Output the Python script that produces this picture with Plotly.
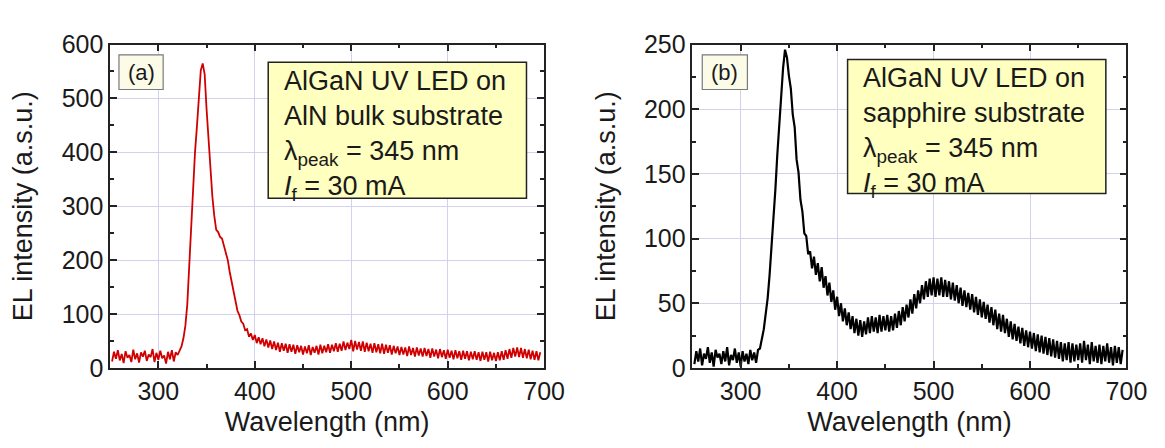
import plotly.graph_objects as go

# ---------------- data ----------------
wavelength_nm = list(range(252, 698, 2))  # sampling grid, 252..696 nm

el_aln_bulk = [
    12, 30, 17, 33, 14, 26, 9, 31, 19, 24,
    11, 34, 16, 27, 10, 29, 21, 32, 13, 25,
    20, 35, 11, 28, 15, 32, 18, 23, 8, 30,
    16, 33, 12, 29, 24, 34, 40, 55, 78, 118,
    190, 265, 340, 400, 448, 505, 552, 565, 545, 480,
    418, 360, 318, 282, 256, 252, 243, 240, 226, 216,
    200, 178, 160, 138, 124, 106, 98, 86, 82, 70,
    72, 58, 64, 52, 61, 46, 57, 44, 55, 40,
    53, 38, 51, 35, 49, 33, 47, 30, 46, 32,
    45, 28, 44, 30, 43, 26, 42, 29, 41, 25,
    40, 27, 42, 24, 39, 28, 41, 25, 43, 27,
    41, 29, 44, 28, 43, 31, 46, 30, 45, 32,
    49, 33, 47, 35, 52, 31, 50, 34, 48, 32,
    49, 30, 47, 31, 45, 28, 46, 29, 44, 27,
    45, 26, 43, 28, 42, 25, 41, 27, 40, 24,
    39, 25, 38, 22, 40, 24, 37, 21, 38, 23,
    36, 21, 37, 22, 35, 19, 36, 21, 34, 18,
    35, 20, 33, 17, 34, 19, 32, 16, 33, 18,
    31, 15, 32, 17, 31, 14, 30, 16, 31, 15,
    29, 13, 30, 15, 29, 12, 30, 14, 28, 13,
    29, 14, 31, 15, 33, 17, 35, 19, 37, 21,
    38, 20, 37, 19, 35, 18, 34, 16, 32, 15,
    31, 14, 29,
]

el_sapphire = [
    3, 13, 5, 15, 2, 11, 7, 16, 4, 12,
    1, 14, 8, 11, 3, 13, 5, 16, 2, 10,
    6, 15, 4, 12, 1, 13, 5, 11, 3, 14,
    6, 12, 4, 14, 15, 23, 30, 42, 54, 72,
    92, 116, 138, 165, 190, 212, 232, 246, 240, 226,
    216, 196, 186, 161, 151, 130, 121, 104, 102, 88,
    90, 77, 86, 72, 81, 67, 78, 62, 71, 56,
    66, 51, 60, 45, 55, 40, 50, 36, 46, 33,
    43, 30, 40, 27, 38, 25, 37, 24, 36, 26,
    39, 27, 40, 28, 39, 27, 41, 28, 40, 29,
    41, 28, 40, 29, 42, 31, 44, 33, 47, 36,
    49, 39, 53, 42, 57, 46, 60, 50, 64, 53,
    67, 55, 69, 56, 70, 55, 69, 56, 70, 55,
    68, 55, 67, 53, 66, 52, 64, 50, 62, 48,
    60, 47, 58, 45, 57, 43, 55, 41, 53, 39,
    51, 38, 49, 35, 47, 33, 45, 30, 42, 28,
    41, 27, 38, 24, 36, 22, 34, 21, 32, 19,
    31, 17, 29, 16, 28, 15, 27, 13, 26, 12,
    25, 11, 24, 10, 23, 9, 22, 8, 21, 7,
    20, 5, 19, 6, 20, 4, 19, 5, 18, 6,
    19, 4, 21, 6, 18, 3, 20, 5, 17, 4,
    18, 3, 17, 5, 19, 4, 16, 2, 17, 4,
    16, 3, 14,
]

x_range = [250, 700]
x_major = 100
x_minor = 50
y_range_a = [0, 600]
y_major_a = 100
y_minor_a = 50
y_range_b = [0, 250]
y_major_b = 50
y_minor_b = 25

x_title = "Wavelength (nm)"
y_title = "EL intensity (a.s.u.)"
panel_labels = ["(a)", "(b)"]
info_a = ["AlGaN UV LED on", "AlN bulk substrate",
          "λ<sub>peak</sub> = 345 nm", "<i>I</i><sub>f</sub> = 30 mA"]
info_b = ["AlGaN UV LED on", "sapphire substrate",
          "λ<sub>peak</sub> = 345 nm", "<i>I</i><sub>f</sub> = 30 mA"]

# ---------------- layout helpers ----------------
W, H = 1165, 448
FONT = "Liberation Sans, Arial, Helvetica, sans-serif"
TXT = "#1a1a1a"


def px(x):
    return x / W


def py(y):
    return 1 - y / H


ydom = [py(369), py(24)]
xdom_a = [px(104), px(546)]
xdom_b = [px(697), px(1139)]

fig = go.Figure()
fig.add_trace(go.Scatter(x=wavelength_nm, y=el_aln_bulk, mode="lines",
                         line=dict(color="#D00000", width=1.8),
                         xaxis="x", yaxis="y", showlegend=False))
fig.add_trace(go.Scatter(x=wavelength_nm, y=el_sapphire, mode="lines",
                         line=dict(color="#000000", width=2.2),
                         xaxis="x2", yaxis="y2", showlegend=False))


def axis(rng, dtick, minor_dtick, domain, anchor, title, standoff):
    return dict(
        range=rng, dtick=dtick, tick0=0, domain=domain, anchor=anchor,
        showline=True, linecolor="#222", linewidth=1.5, mirror="allticks",
        ticks="inside", ticklen=7, tickwidth=1.5, tickcolor="#222",
        showgrid=True, gridcolor="#D2D2EC", gridwidth=1, zeroline=False,
        tickfont=dict(family=FONT, size=25, color=TXT),
        minor=dict(dtick=minor_dtick, ticks="inside", ticklen=4,
                   tickwidth=1.5, tickcolor="#222", showgrid=False),
        title=dict(text=title, font=dict(family=FONT, size=27, color=TXT),
                   standoff=standoff),
        fixedrange=True,
    )


fig.update_layout(
    width=W, height=H,
    margin=dict(l=0, r=0, t=0, b=0),
    paper_bgcolor="white", plot_bgcolor="white",
    xaxis=axis(x_range, x_major, x_minor, xdom_a, "y", x_title, 8),
    yaxis=axis(y_range_a, y_major_a, y_minor_a, ydom, "x", y_title, 21),
    xaxis2=axis(x_range, x_major, x_minor, xdom_b, "y2", x_title, 8),
    yaxis2=axis(y_range_b, y_major_b, y_minor_b, ydom, "x2", y_title, 21),
)

shapes = []
annotations = []
# panel label boxes and info boxes (pixel positions)
label_boxes = [(113, 158, 35, 72), (707, 753, 35, 72)]
info_boxes = [(265, 528, 43, 188), (855, 1118, 40, 183)]
info_texts = [info_a, info_b]
for i in range(2):
    x0, x1, y0, y1 = label_boxes[i]
    shapes.append(dict(type="rect", xref="paper", yref="paper", layer="above",
                       x0=px(x0), x1=px(x1), y0=py(y1), y1=py(y0),
                       fillcolor="#FBFBE8", line=dict(color="#7a7a7a", width=1.2)))
    annotations.append(dict(xref="paper", yref="paper", x=px((x0 + x1) / 2),
                            y=py((y0 + y1) / 2), xanchor="center", yanchor="middle",
                            text=panel_labels[i], showarrow=False,
                            font=dict(family=FONT, size=22, color=TXT)))
    x0, x1, y0, y1 = info_boxes[i]
    shapes.append(dict(type="rect", xref="paper", yref="paper", layer="above",
                       x0=px(x0), x1=px(x1), y0=py(y1), y1=py(y0),
                       fillcolor="#FFFFC0", line=dict(color="#222", width=1.5)))
    annotations.append(dict(xref="paper", yref="paper", x=px(x0 + 15),
                            y=py(y0 + 3), xanchor="left", yanchor="top",
                            align="left", text="<br>".join(info_texts[i]),
                            showarrow=False, borderpad=0,
                            font=dict(family=FONT, size=27, color=TXT)))

fig.update_layout(shapes=shapes, annotations=annotations)
fig.write_html("out.html")
